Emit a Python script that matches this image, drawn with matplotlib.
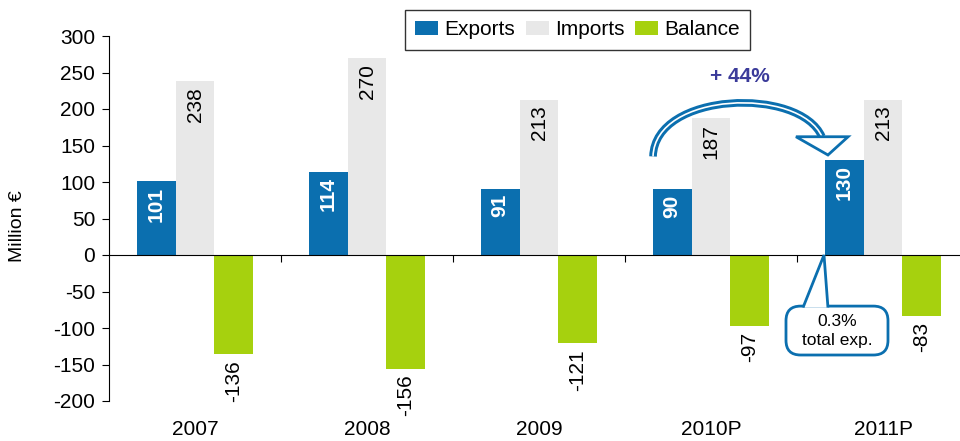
import matplotlib.pyplot as plt
import numpy as np
from matplotlib.patches import FancyBboxPatch, PathPatch, Polygon
from matplotlib.path import Path

plt.rcParams['font.family'] = ['Liberation Sans', 'DejaVu Sans']
plt.rcParams['axes.unicode_minus'] = False

# Data
years = ['2007', '2008', '2009', '2010P', '2011P']
exports = [101, 114, 91, 90, 130]
imports = [238, 270, 213, 187, 213]
balance = [-136, -156, -121, -97, -83]

BLUE = '#0B6FAF'
GREY = '#E8E8E8'
GREEN = '#A6D10E'
FS = 15

fig = plt.figure(figsize=(9.6, 4.41), dpi=100)
ax = fig.add_axes([109 / 960, 40 / 441, 860 / 960, 365 / 441])

x = np.arange(len(years))
w = 0.226
ax.bar(x - w, exports, w, color=BLUE, label='Exports', zorder=2)
ax.bar(x, imports, w, color=GREY, label='Imports', zorder=2)
ax.bar(x + w, balance, w, color=GREEN, label='Balance', zorder=2)

ax.set_xlim(-0.5, 4.5)
ax.set_ylim(-200, 300)
ax.set_yticks(range(-200, 301, 50))
ax.tick_params(axis='y', labelsize=FS, direction='out', length=5, pad=5)

# x axis on zero line, ticks at category boundaries
ax.spines['bottom'].set_position(('data', 0))
ax.spines['top'].set_visible(False)
ax.spines['right'].set_visible(False)
ax.spines['bottom'].set_zorder(3)
ax.set_xticks(np.arange(0.5, 4.5, 1.0))
ax.set_xticklabels([])
ax.tick_params(axis='x', direction='out', length=5)

for i, yr in enumerate(years):
    ax.text(i, -252, yr, ha='center', va='bottom', fontsize=FS, clip_on=False)

ax.set_ylabel('Million €', fontsize=14)
ax.yaxis.set_label_coords(-0.097, 0.48)

# value labels
for i in range(len(years)):
    ax.text(x[i] - w, exports[i] - 7, str(exports[i]), rotation=90, ha='center', va='top',
            color='white', fontweight='bold', fontsize=FS, zorder=4)
    ax.text(x[i], imports[i] - 8, str(imports[i]), rotation=90, ha='center', va='top',
            color='black', fontsize=FS, zorder=4)
    ax.text(x[i] + w, balance[i] - 8, str(balance[i]), rotation=90, ha='center', va='top',
            color='black', fontsize=FS, zorder=4)

# legend
leg = ax.legend(loc='upper left', bbox_to_anchor=(405 / 960, 1 - 10 / 441),
                bbox_transform=fig.transFigure, ncol=3, fontsize=FS,
                frameon=True, fancybox=False, edgecolor='black', handlelength=1.1,
                handleheight=0.7, columnspacing=0.5, handletextpad=0.3, borderpad=0.5,
                borderaxespad=0)
leg.get_frame().set_linewidth(1.0)

# growth arrow: curved band + hollow triangular head
arc_path = Path([(2.663, 135), (2.674, 224), (3.517, 231), (3.645, 162)],
                [Path.MOVETO, Path.CURVE4, Path.CURVE4, Path.CURVE4])
ax.add_patch(PathPatch(arc_path, fc='none', ec=BLUE, lw=5.5, capstyle='butt', zorder=5))
ax.add_patch(PathPatch(arc_path, fc='none', ec='white', lw=1.2, capstyle='butt', zorder=5))
ax.add_patch(Polygon([(3.494, 162), (3.797, 162), (3.680, 137)], closed=True,
                     fc='white', ec=BLUE, lw=2, zorder=6))
ax.text(3.17, 244, '+ 44%', ha='center', va='center', fontsize=FS, fontweight='bold',
        color='#3B3B9A', zorder=5)

# callout for 2011P exports
box = FancyBboxPatch((3.436, -137), 0.593, 67,
                     boxstyle='round,pad=0,rounding_size=0.085', mutation_aspect=235,
                     fc='white', ec=BLUE, lw=2, zorder=6)
ax.add_patch(box)
ax.add_patch(Polygon([(3.535, -72), (3.657, 0), (3.680, -72)], closed=False,
                     fc='white', ec=BLUE, lw=2, zorder=7))
ax.text(3.733, -104, '0.3%\ntotal exp.', ha='center', va='center', fontsize=12.5,
        linespacing=1.3, zorder=8)

fig.savefig('out.png', dpi=100)
